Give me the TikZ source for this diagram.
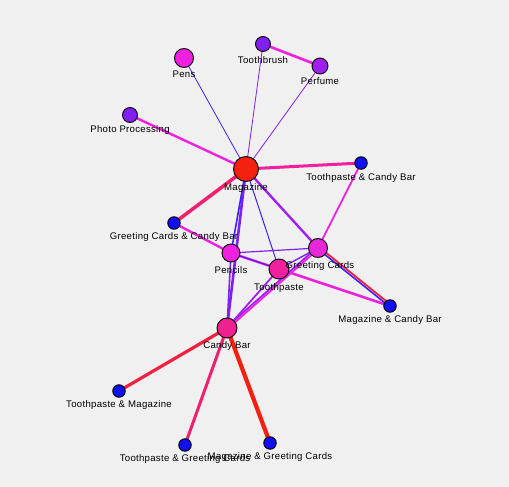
\documentclass[tikz,border=0pt]{standalone}
\usepackage{fontspec}
\setmainfont{Liberation Sans}[LetterSpace=3]
\pgfdeclarelayer{bg}
\pgfdeclarelayer{back}
\pgfsetlayers{back,bg,main}
\definecolor{bgc}{HTML}{F0F0F0}
\definecolor{cred}{HTML}{F52010}
\definecolor{cmag}{HTML}{F020E0}
\definecolor{cpink}{HTML}{F020A0}
\definecolor{ccandy}{HTML}{F02090}
\definecolor{cgc}{HTML}{E828D8}
\definecolor{cpurp}{HTML}{8020F0}
\definecolor{cviol}{HTML}{A020F0}
\definecolor{cblue}{HTML}{1010F0}
\definecolor{eblue}{HTML}{4020F0}
\definecolor{epurp}{HTML}{8020F0}
\definecolor{eviol}{HTML}{A020F0}
\definecolor{emag}{HTML}{F020E0}
\definecolor{epink}{HTML}{F020A0}
\definecolor{erose}{HTML}{F02070}
\definecolor{ered}{HTML}{F02040}
\definecolor{ered2}{HTML}{F52010}
\tikzset{
  x=1pt,y=-1pt,
  vtx/.style={circle,draw=black,line width=0.9pt,inner sep=0pt,minimum size=#1},
  lbl/.style={font=\fontsize{9.6}{10}\selectfont,text=black,inner sep=0pt},
  edge/.style={line width=#1},
}
\begin{document}
\begin{tikzpicture}
\begin{pgfonlayer}{back}
\fill[bgc] (0,0) rectangle (509,487);
\end{pgfonlayer}
\useasboundingbox (0,0) rectangle (509,487);
% nodes
\node[vtx=19pt,fill=cmag] (pens) at (184,58) {};
\node[vtx=15pt,fill=cpurp] (tbrush) at (263,44) {};
\node[vtx=16pt,fill=cviol] (perf) at (320,66) {};
\node[vtx=15pt,fill=cpurp] (photo) at (130,115) {};
\node[vtx=25pt,fill=cred] (mag) at (246,169) {};
\node[vtx=12.5pt,fill=cblue] (tpcb) at (361,163) {};
\node[vtx=12.5pt,fill=cblue] (gccb) at (174,223) {};
\node[vtx=18pt,fill=cmag] (pencils) at (231,253) {};
\node[vtx=19pt,fill=cgc] (gc) at (318,248) {};
\node[vtx=20pt,fill=cpink] (tp) at (279,269) {};
\node[vtx=12.5pt,fill=cblue] (mcb) at (390,306) {};
\node[vtx=20pt,fill=ccandy] (cb) at (227,328) {};
\node[vtx=12.5pt,fill=cblue] (tpm) at (119,391) {};
\node[vtx=12.5pt,fill=cblue] (tpgc) at (185,445) {};
\node[vtx=12.5pt,fill=cblue] (mgc) at (270,443) {};
% labels
\node[lbl] (lpens) at (184,74) {Pens};
\node[lbl] (ltbrush) at (263,60) {Toothbrush};
\node[lbl] (lperf) at (320,81) {Perfume};
\node[lbl] (lphoto) at (130,130) {Photo Processing};
\node[lbl] (lmag) at (246,188) {Magazine};
\node[lbl] (ltpcb) at (361,178) {Toothpaste \& Candy Bar};
\node[lbl] (lgccb) at (174,237) {Greeting Cards \& Candy Bar};
\node[lbl] (lpencils) at (231,270) {Pencils};
\node[lbl] (lgc) at (320,266) {Greeting Cards};
\node[lbl] (ltp) at (279,288) {Toothpaste};
\node[lbl] (lmcb) at (390,320) {Magazine \& Candy Bar};
\node[lbl] (lcb) at (227,346) {Candy Bar};
\node[lbl] (ltpm) at (119,405) {Toothpaste \& Magazine};
\node[lbl] (ltpgc) at (185,459) {Toothpaste \& Greeting Cards};
\node[lbl] (lmgc) at (270,457) {Magazine \& Greeting Cards};
% edges
\begin{pgfonlayer}{bg}
\draw[edge=0.8pt,eblue] (mag.center) -- (pens.center);
\draw[edge=0.8pt,epurp] (mag.center) -- (tbrush.center);
\draw[edge=0.8pt,epurp] (mag.center) -- (perf.center);
\draw[edge=2.6pt,emag] (tbrush.center) -- (perf.center);
\draw[edge=2.4pt,emag] (mag.center) -- (photo.center);
\draw[edge=3pt,epink] (mag.center) -- (tpcb.center);
\draw[edge=3.5pt,erose] (mag.center) -- (gccb.center);
\draw[edge=2.6pt,epurp] (mag.center) -- (cb.center);
\draw[edge=1.6pt,eblue] (mag.center) -- (pencils.center);
\draw[edge=1.6pt,epurp] (pencils.center) -- (cb.center);
\draw[edge=1pt,eblue] (mag.center) -- (tp.center);
\draw[edge=2.4pt,eviol] (mag.center) -- (gc.center);
\draw[edge=2.4pt,emag] (gccb.center) -- (pencils.center);
\draw[edge=2.4pt,emag] (pencils.center) -- (mcb.center);
\draw[edge=1pt,eblue] (pencils.center) -- (tp.center);
\draw[edge=2pt,emag] (tp.center) -- (mcb.center);
\draw[edge=1.8pt,emag] (gc.center) -- (tpcb.center);
\draw[edge=1.2pt,epurp] (gc.center) -- (pencils.center);
\draw[edge=1.4pt,epurp] (gc.center) -- (tp.center);
\draw[edge=1.8pt,eviol] ([xshift=-1.5pt]gc.center) -- ([xshift=-1.5pt]cb.center);
\draw[edge=1.8pt,emag] ([xshift=1.5pt]gc.center) -- ([xshift=1.5pt]cb.center);
\draw[edge=1.8pt,eviol] (tp.center) -- (cb.center);
\draw[edge=1.6pt,eblue] ([yshift=-1pt]gc.center) -- ([yshift=-1pt]mcb.center);
\draw[edge=1.8pt,ered] ([yshift=1pt,xshift=1pt]gc.center) -- ([yshift=1pt,xshift=1pt]mcb.center);
\draw[edge=3.2pt,ered] (cb.center) -- (tpm.center);
\draw[edge=3pt,erose] (cb.center) -- (tpgc.center);
\draw[edge=4.2pt,ered2] (cb.center) -- (mgc.center);
\end{pgfonlayer}
\end{tikzpicture}
\end{document}
